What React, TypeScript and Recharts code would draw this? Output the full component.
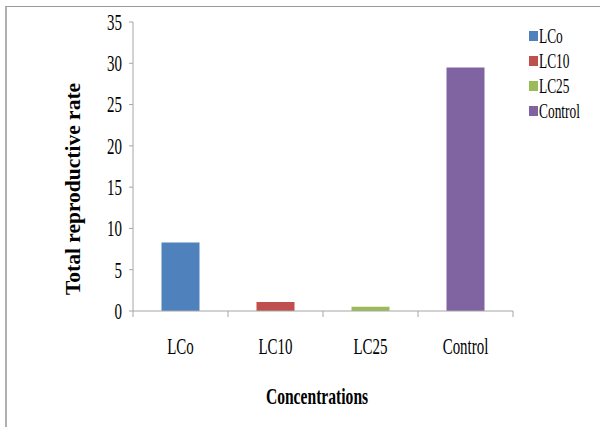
import { BarChart, Bar, XAxis, YAxis, Cell, Legend } from 'recharts';

// Values
const categories = ['LCo', 'LC10', 'LC25', 'Control'];
const rates = [8.3, 1.1, 0.5, 29.5];
const colors = ['#4F81BD', '#C0504D', '#9BBB59', '#8064A2'];
const yTicks = [0, 5, 10, 15, 20, 25, 30, 35];

const data = categories.map((name, i) => ({ name, value: rates[i] }));

const FONT = '"Liberation Serif", "Times New Roman", serif';
const SQUEEZE = 0.65; // the original picture is squashed horizontally
const W = 600;
const H = 427;
const MARGIN = { top: 22, right: 87, bottom: 12, left: 40 };
const Y_AXIS_W = 93;
const X_AXIS_H = 104;
const AXIS_COLOR = '#a6a6a6';
const BAND = (W - MARGIN.left - Y_AXIS_W - MARGIN.right) / categories.length;

function XTick({ x, y, payload, index }: any) {
  const last = index === categories.length - 1;
  return (
    <g>
      <line x1={x - BAND / 2} x2={x - BAND / 2} y1={y} y2={y + 6} stroke={AXIS_COLOR} />
      {last && <line x1={x + BAND / 2} x2={x + BAND / 2} y1={y} y2={y + 6} stroke={AXIS_COLOR} />}
      <text
        transform={`translate(${x},${y + 43}) scale(${SQUEEZE},1)`}
        textAnchor="middle"
        fontFamily={FONT}
        fontSize={23}
        fill="#000"
      >
        {payload.value}
      </text>
    </g>
  );
}

function YTick({ x, y, payload }: any) {
  return (
    <g>
      <line x1={x - 4} x2={x} y1={y} y2={y} stroke={AXIS_COLOR} />
      <text
        transform={`translate(${x - 11},${y}) scale(${SQUEEZE},1)`}
        textAnchor="end"
        dy="0.34em"
        fontFamily={FONT}
        fontSize={23}
        fill="#000"
      >
        {payload.value}
      </text>
    </g>
  );
}

function XTitle() {
  return (
    <text
      transform={`translate(317,404) scale(${SQUEEZE},1)`}
      textAnchor="middle"
      fontFamily={FONT}
      fontSize={24}
      fontWeight="bold"
      fill="#000"
    >
      Concentrations
    </text>
  );
}

function YTitle() {
  return (
    <text
      transform="translate(80,189) rotate(-90)"
      textAnchor="middle"
      fontFamily={FONT}
      fontSize={21.5}
      fontWeight="bold"
      fill="#000"
    >
      Total reproductive rate
    </text>
  );
}

function LegendBox() {
  return (
    <div style={{ fontFamily: FONT, fontSize: 20, color: '#000', lineHeight: 1 }}>
      {categories.map((c, i) => (
        <div key={c} style={{ display: 'flex', alignItems: 'center', height: 25 }}>
          <span style={{ width: 9, height: 10, background: colors[i], marginRight: 1, flexShrink: 0 }} />
          <span style={{ display: 'inline-block', transform: `scaleX(0.67)`, transformOrigin: 'left center' }}>
            {c}
          </span>
        </div>
      ))}
    </div>
  );
}

export default function App() {
  return (
    <div style={{ position: 'absolute', left: 0, top: 0, width: W, height: H, background: '#fff', overflow: 'hidden' }}>
      <div
        style={{
          position: 'absolute',
          left: 5,
          top: 6,
          width: W,
          height: H,
          borderLeft: '2px solid #b0b0b0',
          borderTop: '1px solid #9a9a9a',
        }}
      />
      <BarChart width={W} height={H} data={data} margin={MARGIN} barCategoryGap="30%">
        <XAxis
          dataKey="name"
          height={X_AXIS_H}
          tickSize={0}
          tickMargin={0}
          tickLine={false}
          stroke={AXIS_COLOR}
          tick={<XTick />}
          interval={0}
          label={{ content: () => <XTitle /> }}
        />
        <YAxis
          width={Y_AXIS_W}
          domain={[0, 35]}
          ticks={yTicks}
          tickSize={0}
          tickMargin={0}
          tickLine={false}
          stroke={AXIS_COLOR}
          tick={<YTick />}
          interval={0}
          label={{ content: () => <YTitle /> }}
        />
        <Legend
          layout="horizontal"
          verticalAlign="middle"
          content={() => <LegendBox />}
          wrapperStyle={{ top: 23, left: 529, right: 'auto', width: 80 }}
        />
        <Bar dataKey="value" isAnimationActive={false}>
          {data.map((d, i) => (
            <Cell key={d.name} fill={colors[i]} />
          ))}
        </Bar>
      </BarChart>
    </div>
  );
}
